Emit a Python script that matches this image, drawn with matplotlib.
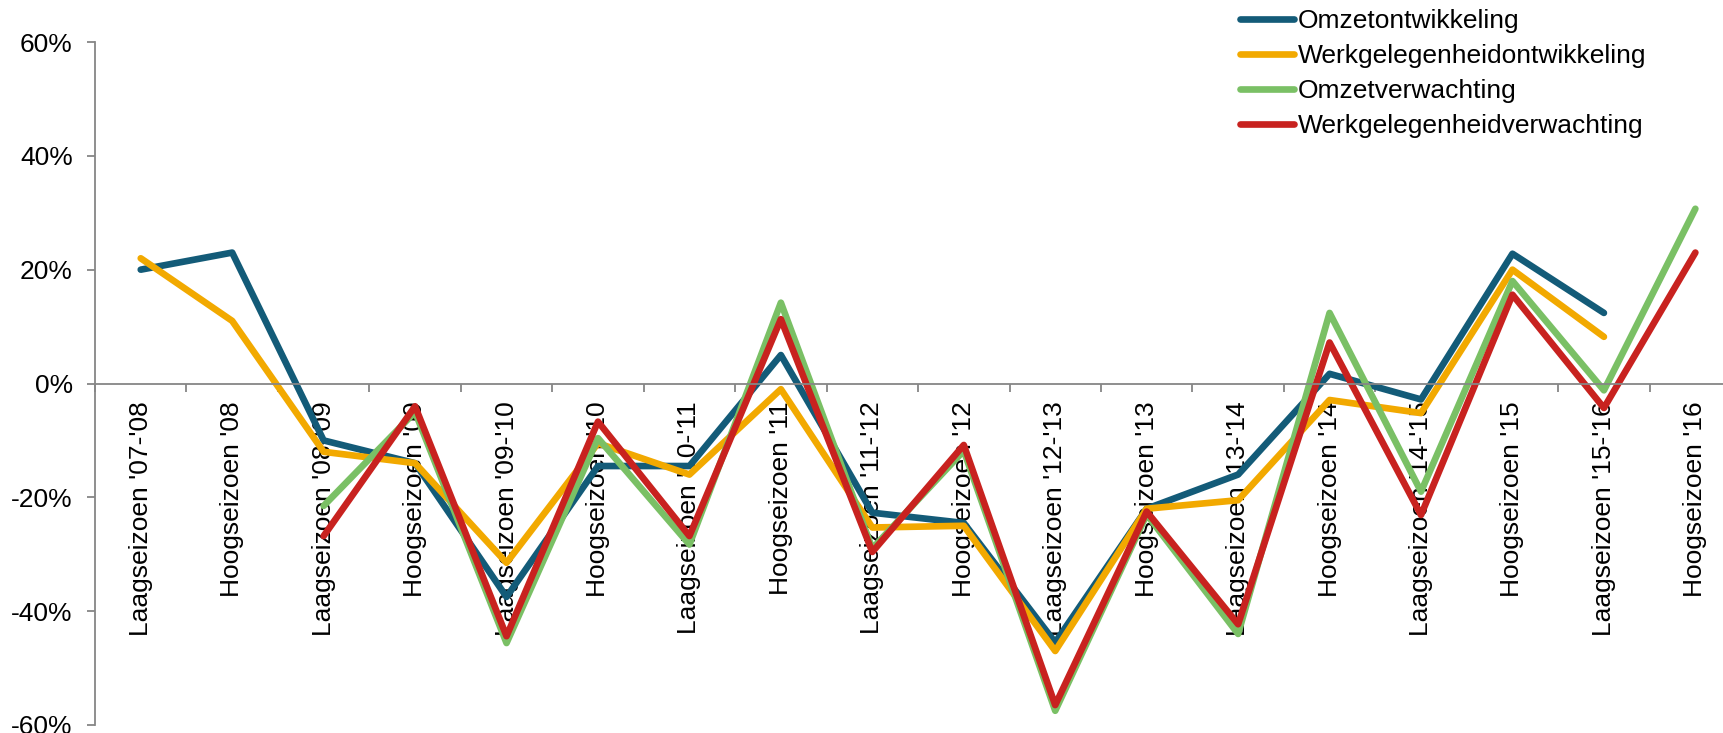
import matplotlib
matplotlib.use("Agg")
import matplotlib.pyplot as plt
import numpy as np

plt.rcParams['font.family'] = ['Liberation Sans', 'DejaVu Sans']

categories = ["Laagseizoen '07-'08", "Hoogseizoen '08", "Laagseizoen '08-'09", "Hoogseizoen '09",
              "Laagseizoen '09-'10", "Hoogseizoen '10", "Laagseizoen '10-'11", "Hoogseizoen '11",
              "Laagseizoen '11-'12", "Hoogseizoen '12", "Laagseizoen '12-'13", "Hoogseizoen '13",
              "Laagseizoen '13-'14", "Hoogseizoen '14", "Laagseizoen '14-'15", "Hoogseizoen '15",
              "Laagseizoen '15-'16", "Hoogseizoen '16"]

nan = np.nan
omzet_ontw = [20, 23, -10, -14, -37.5, -14.5, -14.5, 5, -22.7, -24.5, -45.5, -22,
              -16, 1.7, -2.8, 22.8, 12.4, nan]
werk_ontw = [22, 11, -12, -14, -31.5, -10.5, -16, -1, -25.3, -25, -47, -22,
             -20.5, -2.9, -5.2, 20, 8.2, nan]
omzet_verw = [nan, nan, -21.5, -5, -45.6, -9.6, -28.3, 14.2, -29, -11.8, -57.5, -23,
              -44, 12.4, -19, 18, -1.2, 30.7]
werk_verw = [nan, nan, -26.8, -4, -44.4, -6.7, -26.8, 11.3, -29.6, -10.8, -56.5, -22.5,
             -42.3, 7.2, -23.1, 15.6, -4.3, 23]

series = [
    ("Omzetontwikkeling", omzet_ontw, "#135B78"),
    ("Werkgelegenheidontwikkeling", werk_ontw, "#F2A900"),
    ("Omzetverwachting", omzet_verw, "#7AC065"),
    ("Werkgelegenheidverwachting", werk_verw, "#C8221F"),
]

W, H = 1723, 733
fig = plt.figure(figsize=(W / 100, H / 100), dpi=100)
left = 95 / W
width = 18 * 91.45 / W
bottom = 8 / H
height = (725 - 42) / H
ax = fig.add_axes([left, bottom, width, height])

x = np.arange(len(categories))
for name, vals, col in series:
    ax.plot(x, vals, color=col, lw=4.8, label=name, solid_capstyle='round')

gray = "#868686"
ax.set_xlim(-0.5, len(categories) - 0.5)
ax.set_ylim(-60, 60)
ax.set_yticks(np.arange(-60, 61, 20))
ax.set_yticklabels([f"{v}%" for v in range(-60, 61, 20)], fontsize=19)

ax.spines['top'].set_visible(False)
ax.spines['right'].set_visible(False)
ax.spines['bottom'].set_position(('data', 0))
ax.spines['left'].set_color(gray)
ax.spines['bottom'].set_color(gray)
ax.spines['left'].set_linewidth(1.3)
ax.spines['bottom'].set_linewidth(1.3)

ax.set_xticks(x)
ax.set_xticklabels(categories, rotation=90, fontsize=19, va='top', ha='center')
ax.set_xticks(np.arange(-0.5, len(categories), 1), minor=True)
ax.tick_params(axis='x', which='major', length=0, pad=13)
ax.tick_params(axis='x', which='minor', length=6, color=gray, width=1.3, direction='out')
ax.tick_params(axis='y', length=6, color=gray, width=1.3, pad=10)

ax.legend(loc='upper left', bbox_to_anchor=(1240 / W, 1 - 9 / H), bbox_transform=fig.transFigure,
          frameon=False, fontsize=19, handlelength=2.05, handletextpad=0.15,
          labelspacing=0.42, borderpad=0, borderaxespad=0)

fig.savefig("out.png", dpi=100)
